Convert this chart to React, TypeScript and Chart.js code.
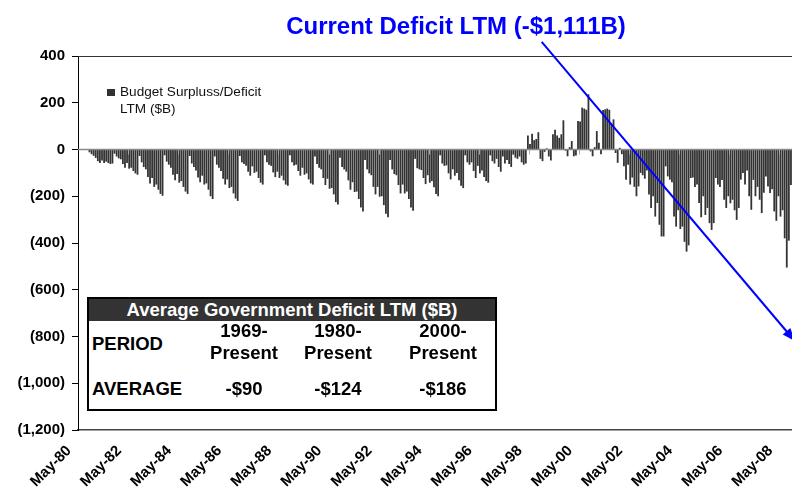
import React, { useEffect, useRef } from "react";
import { Chart, registerables } from "chart.js";

Chart.register(...registerables);

// ---------- DATA ----------
// Monthly values, fiscal-year blocks (Oct..Sep), in $B
const PRE_DATA = [0, 0, 0, 0, 0]; // May-80 .. Sep-80
const FY1981 = [-12, -20, -27, -36, -50, -58, -47, -58, -52, -58, -62, -60];
const FY1982 = [-18, -30, -38, -42, -62, -78, -58, -82, -78, -92, -102, -108];
const FY1983 = [-28, -55, -75, -85, -118, -145, -122, -160, -150, -172, -190, -198];
const FY1984 = [-25, -52, -65, -78, -108, -132, -105, -142, -135, -160, -180, -190];
const FY1985 = [-28, -60, -75, -90, -120, -140, -112, -150, -145, -172, -200, -212];
const FY1986 = [-30, -65, -78, -92, -125, -150, -128, -165, -160, -188, -210, -220];
const FY1987 = [-28, -55, -62, -70, -95, -112, -72, -100, -95, -122, -142, -150];
const FY1988 = [-25, -55, -65, -70, -98, -118, -95, -122, -112, -132, -150, -155];
const FY1989 = [-25, -55, -68, -65, -92, -112, -78, -108, -102, -128, -145, -150];
const FY1990 = [-30, -62, -78, -85, -122, -152, -125, -168, -165, -192, -225, -235];
const FY1991 = [-35, -75, -85, -95, -132, -172, -140, -182, -180, -212, -248, -265];
const FY1992 = [-45, -85, -102, -110, -160, -192, -160, -202, -200, -238, -275, -290];
const FY1993 = [-45, -85, -105, -110, -152, -188, -150, -188, -180, -212, -248, -262];
const FY1994 = [-40, -80, -85, -88, -122, -148, -110, -142, -135, -162, -190, -200];
const FY1995 = [-25, -60, -70, -68, -102, -128, -85, -112, -100, -132, -155, -165];
const FY1996 = [-25, -55, -65, -55, -92, -122, -70, -102, -90, -118, -135, -142];
const FY1997 = [-25, -50, -60, -40, -75, -95, -30, -60, -45, -62, -75, -22];
const FY1998 = [-35, -40, -30, -55, -65, -60, 60, 24, 67, 40, 45, 74];
const FY1999 = [-40, -50, -10, 5, -30, -47, 65, 85, 60, 50, 65, 125];
const FY2000 = [-5, -29, 10, 36, -29, -26, 122, 120, 179, 175, 170, 236];
const FY2001 = [-8, -29, 10, 79, 29, -20, 169, 172, 175, 170, 110, 129];
const FY2002 = [-15, -57, 7, -20, -72, -129, -65, -150, -120, -160, -200, -158];
const FY2003 = [-100, -110, -125, -90, -193, -250, -200, -287, -229, -322, -372, -372];
const FY2004 = [-72, -115, -129, -140, -287, -330, -260, -340, -330, -395, -437, -410];
const FY2005 = [-122, -120, -160, -150, -229, -290, -200, -280, -250, -315, -344, -315];
const FY2006 = [-122, -150, -160, -130, -215, -250, -200, -230, -215, -260, -301, -250];
const FY2007 = [-129, -100, -150, -90, -200, -258, -130, -200, -160, -215, -272, -185];
const FY2008 = [-115, -158, -186, -170, -265, -305, -200, -287, -260, -380, -505, -390];
const FY2009 = [-152];

const SERIES_VALUES: number[] = [
  ...PRE_DATA, ...FY1981, ...FY1982, ...FY1983, ...FY1984, ...FY1985, ...FY1986,
  ...FY1987, ...FY1988, ...FY1989, ...FY1990, ...FY1991, ...FY1992, ...FY1993,
  ...FY1994, ...FY1995, ...FY1996, ...FY1997, ...FY1998, ...FY1999, ...FY2000,
  ...FY2001, ...FY2002, ...FY2003, ...FY2004, ...FY2005, ...FY2006, ...FY2007,
  ...FY2008, ...FY2009,
];

const MONTH_NAMES = ["Jan", "Feb", "Mar", "Apr", "May", "Jun", "Jul", "Aug", "Sep", "Oct", "Nov", "Dec"];
const START_YEAR = 1980;
const START_MONTH = 4; // May
const CATEGORIES: string[] = SERIES_VALUES.map((_, i) => {
  const m = (START_MONTH + i) % 12;
  const yr = START_YEAR + Math.floor((START_MONTH + i) / 12);
  return `${MONTH_NAMES[m]}-${String(yr % 100).padStart(2, "0")}`;
});

const TICK_LABELS = [
  "May-80", "May-82", "May-84", "May-86", "May-88", "May-90", "May-92",
  "May-94", "May-96", "May-98", "May-00", "May-02", "May-04", "May-06", "May-08",
];

const Y_MIN = -1200;
const Y_MAX = 400;
const Y_STEP = 200;

const SERIES_LABEL_LINES = ["Budget Surpluss/Deficit", "LTM ($B)"];
const TITLE_TEXT = "Current Deficit LTM (-$1,111B)";

// arrow annotation endpoints in data units: [category index, value]
const ARROW_FROM = [221.6, 460];
const ARROW_TO = [342.9, -820];

const TABLE_TITLE = "Average Government Deficit LTM ($B)";
const TABLE_PERIODS = [["1969-", "Present"], ["1980-", "Present"], ["2000-", "Present"]];
const TABLE_AVERAGES = [-90, -124, -186];

// ---------- STYLE ----------
const FONT = "Arial, 'Liberation Sans', Helvetica, sans-serif";
const BAR_COLOR = "#333333";

function fmtY(v: number): string {
  const a = Math.abs(v).toLocaleString("en-US");
  if (v < 0) return `(${a})`;
  return a;
}
function fmtAvg(v: number): string {
  return (v < 0 ? "-$" : "$") + Math.abs(v).toLocaleString("en-US");
}

const overlayPlugin = {
  id: "overlay",
  afterDatasetsDraw(chart: any) {
    const { ctx, chartArea } = chart;
    const xs = chart.scales.x;
    const ys = chart.scales.y;
    ctx.save();
    const y0 = ys.getPixelForValue(0);
    ctx.strokeStyle = "#8a8a8a";
    ctx.lineWidth = 1.5;
    ctx.beginPath();
    ctx.moveTo(chartArea.left, y0);
    ctx.lineTo(chartArea.right, y0);
    ctx.stroke();
    ctx.strokeStyle = "#a8a8a8";
    ctx.lineWidth = 1;
    TICK_LABELS.forEach((lbl) => {
      const idx = CATEGORIES.indexOf(lbl);
      if (idx <= 0) return;
      const px = Math.round(xs.getPixelForValue(idx - 0.5)) + 0.5;
      ctx.beginPath();
      ctx.moveTo(px, y0);
      ctx.lineTo(px, y0 + 5);
      ctx.stroke();
    });
    ctx.strokeStyle = "#333";
    ctx.lineWidth = 1;
    ctx.beginPath();
    ctx.moveTo(chartArea.left, chartArea.top + 0.5);
    ctx.lineTo(chartArea.right, chartArea.top + 0.5);
    ctx.stroke();
    ctx.restore();
  },
  afterDraw(chart: any) {
    const { ctx } = chart;
    const xs = chart.scales.x;
    const ys = chart.scales.y;
    ctx.save();
    // title
    ctx.fillStyle = "#0000ff";
    ctx.font = `bold 24px ${FONT}`;
    ctx.textAlign = "center";
    ctx.textBaseline = "alphabetic";
    ctx.fillText(TITLE_TEXT, 456, 34);
    // legend
    ctx.fillStyle = BAR_COLOR;
    ctx.fillRect(107, 89, 8, 7);
    ctx.fillStyle = "#111";
    ctx.font = `13.6px ${FONT}`;
    ctx.textAlign = "left";
    SERIES_LABEL_LINES.forEach((line, k) => {
      ctx.fillText(line, 120, 95.5 + k * 17.5);
    });
    // arrow
    const x1 = xs.getPixelForValue(ARROW_FROM[0]);
    const y1 = ys.getPixelForValue(ARROW_FROM[1]);
    const x2 = xs.getPixelForValue(ARROW_TO[0]);
    const y2 = ys.getPixelForValue(ARROW_TO[1]);
    const ang = Math.atan2(y2 - y1, x2 - x1);
    const headLen = 13;
    const headW = 5;
    ctx.strokeStyle = "#0000ff";
    ctx.fillStyle = "#0000ff";
    ctx.lineWidth = 2;
    ctx.beginPath();
    ctx.moveTo(x1, y1);
    ctx.lineTo(x2 - Math.cos(ang) * headLen * 0.8, y2 - Math.sin(ang) * headLen * 0.8);
    ctx.stroke();
    ctx.beginPath();
    ctx.moveTo(x2, y2);
    ctx.lineTo(
      x2 - Math.cos(ang) * headLen - Math.sin(ang) * headW,
      y2 - Math.sin(ang) * headLen + Math.cos(ang) * headW
    );
    ctx.lineTo(
      x2 - Math.cos(ang) * headLen + Math.sin(ang) * headW,
      y2 - Math.sin(ang) * headLen - Math.cos(ang) * headW
    );
    ctx.closePath();
    ctx.fill();
    ctx.restore();
  },
};

const TABLE_LEFT = 87;
const TABLE_TOP = 297;
const COL_CENTERS = [244, 338, 443];

function DeficitTable() {
  const cell: React.CSSProperties = {
    position: "absolute",
    textAlign: "center",
    lineHeight: "22px",
    fontSize: 18.5,
    fontWeight: "bold",
    color: "#000",
    whiteSpace: "nowrap",
  };
  const inner = TABLE_LEFT + 2;
  return (
    <div
      style={{
        position: "absolute",
        left: TABLE_LEFT,
        top: TABLE_TOP,
        width: 410,
        height: 114,
        border: "2px solid #000",
        boxSizing: "border-box",
        background: "#fff",
        fontFamily: FONT,
      }}
    >
      <div
        style={{
          position: "absolute",
          left: 0,
          top: 0,
          right: 0,
          height: 22,
          background: "#333333",
          color: "#fff",
          fontWeight: "bold",
          fontSize: 18.5,
          lineHeight: "22px",
          textAlign: "center",
          whiteSpace: "nowrap",
        }}
      >
        {TABLE_TITLE}
      </div>
      <div style={{ ...cell, left: 3, top: 34, textAlign: "left" }}>PERIOD</div>
      {TABLE_PERIODS.map((p, k) => (
        <div key={k} style={{ ...cell, left: COL_CENTERS[k] - inner - 60, width: 120, top: 21 }}>
          {p[0]}
          <br />
          {p[1]}
        </div>
      ))}
      <div style={{ ...cell, left: 3, top: 79, textAlign: "left" }}>AVERAGE</div>
      {TABLE_AVERAGES.map((v, k) => (
        <div key={k} style={{ ...cell, left: COL_CENTERS[k] - inner - 60, width: 120, top: 79 }}>
          {fmtAvg(v)}
        </div>
      ))}
    </div>
  );
}

export default function App() {
  const canvasRef = useRef<HTMLCanvasElement | null>(null);

  useEffect(() => {
    if (!canvasRef.current) return;
    const chart = new Chart(canvasRef.current, {
      type: "bar",
      data: {
        labels: CATEGORIES,
        datasets: [
          {
            label: SERIES_LABEL_LINES.join(" "),
            data: SERIES_VALUES,
            backgroundColor: BAR_COLOR,
            borderWidth: 0,
            barPercentage: 0.86,
            categoryPercentage: 1.0,
          },
        ],
      },
      options: {
        responsive: true,
        maintainAspectRatio: false,
        animation: false,
        layout: { padding: { top: 56, left: 0, right: 0, bottom: 0 } },
        plugins: {
          legend: { display: false },
          title: { display: false },
          tooltip: { enabled: false },
        },
        scales: {
          x: {
            type: "category",
            grid: { display: false, drawTicks: false },
            border: { display: true, color: "#444", width: 1.5 },
            ticks: {
              autoSkip: false,
              minRotation: 45,
              maxRotation: 45,
              padding: 12,
              labelOffset: -10,
              color: "#000",
              font: { family: FONT, size: 15, weight: "bold" },
            },
            afterBuildTicks: (scale: any) => {
              scale.ticks = scale.ticks.filter((t: any) => TICK_LABELS.includes(CATEGORIES[t.value]));
            },
            afterFit: (scale: any) => {
              scale.height = 65;
              scale.paddingLeft = 0;
              scale.paddingRight = 0;
            },
          },
          y: {
            min: Y_MIN,
            max: Y_MAX,
            ticks: {
              stepSize: Y_STEP,
              padding: 7,
              color: "#000",
              font: { family: FONT, size: 15, weight: "bold" },
              callback: (v: any) => fmtY(Number(v)),
            },
            grid: { drawOnChartArea: false, drawTicks: true, tickLength: 6, tickColor: "#000" },
            border: { display: true, color: "#000", width: 1 },
            afterFit: (scale: any) => {
              scale.width = 78;
              scale.paddingTop = 0;
              scale.paddingBottom = 0;
            },
          },
        },
      },
      plugins: [overlayPlugin],
    });
    return () => chart.destroy();
  }, []);

  return (
    <div style={{ position: "fixed", left: 0, top: 0, width: 792, height: 495, background: "#fff" }}>
      <canvas ref={canvasRef} />
      <DeficitTable />
    </div>
  );
}
